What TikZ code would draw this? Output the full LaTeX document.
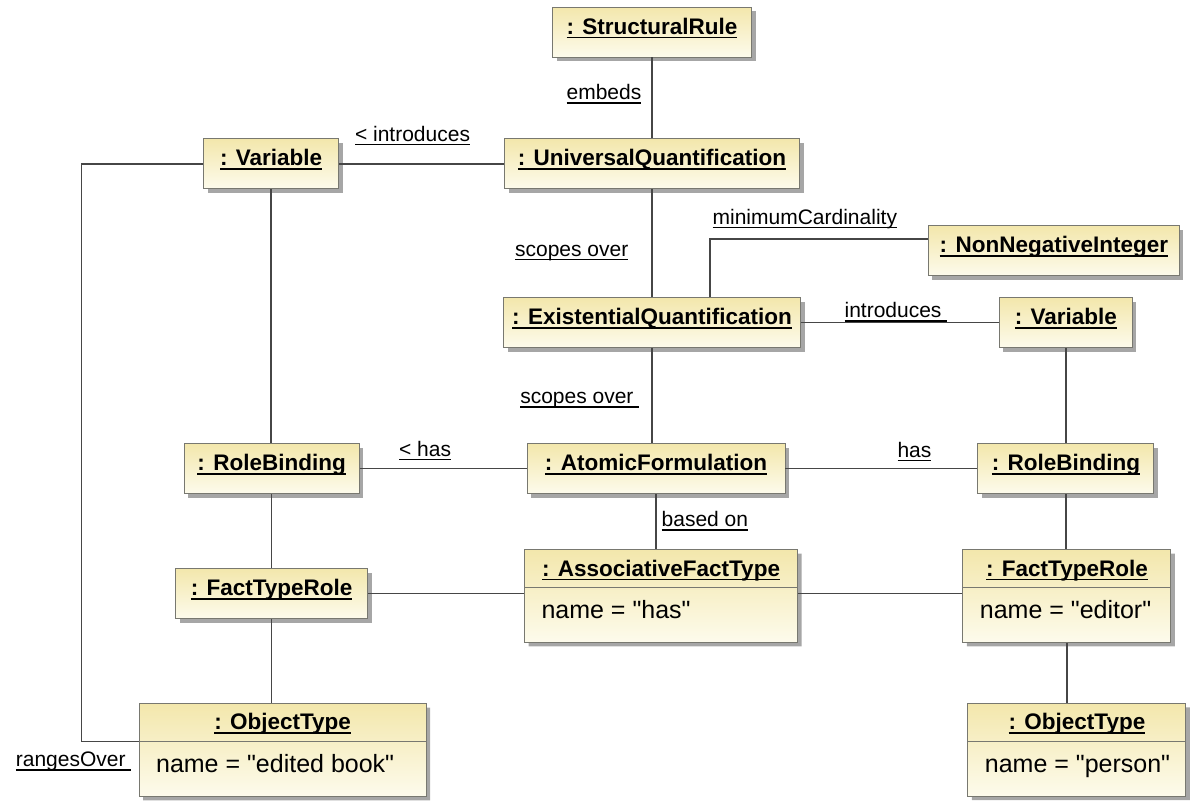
\documentclass[tikz,border=0pt]{standalone}
\usepackage{fontspec}
\newfontfamily\umlfont{Liberation Sans}
\usepackage{tikz}
\usetikzlibrary{positioning,shapes.multipart,shadows}

\definecolor{objtop}{RGB}{243,231,172}
\definecolor{objbot}{RGB}{253,251,236}
\definecolor{objline}{RGB}{120,120,112}
\definecolor{linkgray}{RGB}{70,70,70}

\newcommand\undl[1]{\setbox0\hbox{#1}\rlap{\rule[-4pt]{\wd0}{1.5pt}}\box0}
\newcommand\objhead[2]{\makebox[#1][c]{\rule[-11pt]{0pt}{37pt}\undl{\textbf{#2}}}}
\newcommand\objattr[2]{\makebox[#1][l]{\fontsize{25}{30}\selectfont\hspace{17pt}\rule[-23pt]{0pt}{54pt}#2}}

\begin{document}
\begin{tikzpicture}[
  font=\umlfont,
  obj/.style={draw=objline, line width=0.9pt, top color=objtop, bottom color=objbot,
    drop shadow={shadow xshift=4pt, shadow yshift=-4pt, fill=black!35, opacity=1},
    font=\fontsize{22.5}{27}\umlfont},
  box/.style={obj, minimum height=50pt, inner xsep=4pt, text height=18pt, text depth=14pt},
  splitbox/.style={obj, rectangle split, rectangle split parts=2, inner sep=0pt},
  lbl/.style={inner sep=0pt, text height=15pt, text depth=5pt, font=\fontsize{21}{24}\umlfont},
  link/.style={draw=linkgray, line width=1.3pt}
]
\useasboundingbox (0pt,0pt) rectangle (1190pt,-801pt);
\node[box, minimum width=199pt] (struct) at (652pt,-32pt) {\undl{\textbf{: StructuralRule}}};
\node[box, minimum width=295pt, below=81pt of struct] (univ) {\undl{\textbf{: UniversalQuantification}}};
\node[box, minimum width=297pt, below=108pt of univ] (exist) {\undl{\textbf{: ExistentialQuantification}}};
\node[box, minimum width=258pt, below=95pt of exist, xshift=4pt] (atomic) {\undl{\textbf{: AtomicFormulation}}};
\node[splitbox, below=55pt of atomic, xshift=5pt] (assoc) {\objhead{273pt}{: AssociativeFactType}\nodepart{two}\objattr{273pt}{name = "has"}};
\node[box, minimum width=135pt, left=165pt of univ] (varl) {\undl{\textbf{: Variable}}};
\node[box, minimum width=175pt, left=167pt of atomic] (bindl) {\undl{\textbf{: RoleBinding}}};
\node[box, minimum width=192pt, below=74pt of bindl] (rolel) {\undl{\textbf{: FactTypeRole}}};
\node[splitbox, below=84pt of rolel, xshift=11pt] (objl) {\objhead{287pt}{: ObjectType}\nodepart{two}\objattr{287pt}{name = "edited book"}};
\node[box, minimum width=133pt, right=198pt of exist] (varr) {\undl{\textbf{: Variable}}};
\node[box, minimum width=251pt, above=21pt of varr, xshift=-12pt] (nonneg) {\undl{\textbf{: NonNegativeInteger}}};
\node[box, minimum width=176pt, right=192pt of atomic] (bindr) {\undl{\textbf{: RoleBinding}}};
\node[splitbox, below=55pt of bindr, xshift=1pt] (roler) {\objhead{208pt}{: FactTypeRole}\nodepart{two}\objattr{208pt}{name = "editor"}};
\node[splitbox, below=60pt of roler, xshift=10pt] (objr) {\objhead{218pt}{: ObjectType}\nodepart{two}\objattr{218pt}{name = "person"}};
\draw[link] (struct) -- (univ) node[lbl, midway, left=10pt, yshift=3pt] (embeds) {\undl{embeds}};
\draw[link] (varl) -- (univ) node[lbl, midway, above=17pt, xshift=-9pt] (introl) {\undl{< introduces}};
\draw[link] (univ) -- (exist) node[lbl, midway, left=23pt, yshift=-8pt] (scope1) {\undl{scopes over}};
\draw[link] ([xshift=58pt]exist.north) |- ([yshift=12pt]nonneg.west) node[lbl, pos=0.5, anchor=south west, xshift=2pt, yshift=9pt] (mincard) {\undl{minimumCardinality}};
\draw[link] (exist) -- (varr) node[lbl, midway, xshift=-4pt, yshift=10pt] (intror) {\undl{introduces\ }};
\draw[link] (exist.south) -- (exist.south |- atomic.north) node[lbl, midway, left=12pt, yshift=-3pt] (scope2) {\undl{scopes over\ }};
\draw[link] (bindl) -- (atomic) node[lbl, midway, above=7pt, xshift=-18pt] (hasl) {\undl{< has}};
\draw[link] (atomic) -- (bindr) node[lbl, midway, above=6pt, xshift=33pt] (hasr) {\undl{has}};
\draw[link] (atomic.south) -- (atomic.south |- assoc.north) node[lbl, midway, right=5pt] (basedon) {\undl{based on}};
\draw[link] (varl.south) -- (varl.south |- bindl.north);
\draw[link] (bindl) -- (rolel);
\draw[link] (rolel.south) -- (rolel.south |- objl.north);
\draw[link] (rolel.east) -- (rolel.east -| assoc.west);
\draw[link] (assoc.east |- rolel.east) -- (roler.west |- rolel.east);
\draw[link] (varr) -- (bindr);
\draw[link] (bindr.south) -- (bindr.south |- roler.north);
\draw[link] (roler.south) -- (roler.south |- objr.north);
\draw[link] (varl.west) -| ([xshift=-57pt]objl.text split west) -- (objl.text split west);
\node[lbl, anchor=north east] (ranges) at ([xshift=-7pt,yshift=-10pt]objl.text split west) {\undl{rangesOver\ }};
\end{tikzpicture}
\end{document}
